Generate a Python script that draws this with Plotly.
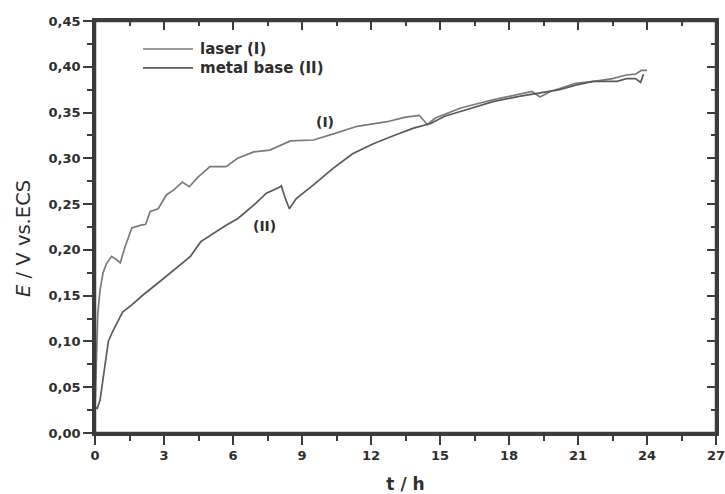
import plotly.graph_objects as go

# Data
t_laser = [0, 0.03, 0.07, 0.12, 0.22, 0.35, 0.5, 0.72, 0.9, 1.1, 1.3, 1.6, 2.0, 2.2, 2.4,
           2.75, 3.1, 3.4, 3.8, 4.1, 4.5, 5.0, 5.7, 6.2, 6.9, 7.6, 8.5, 9.5, 10.4, 11.4,
           12.7, 13.5, 14.1, 14.45, 14.8, 15.9, 17.3, 19.0, 19.35, 19.8, 20.9, 21.7,
           22.5, 23.1, 23.5, 23.75, 24.0]
E_laser = [0.028, 0.05, 0.09, 0.13, 0.156, 0.175, 0.185, 0.193, 0.19, 0.186, 0.203, 0.224,
           0.227, 0.228, 0.242, 0.245, 0.26, 0.265, 0.274, 0.269, 0.28, 0.291, 0.291, 0.300,
           0.307, 0.309, 0.319, 0.32, 0.327, 0.335, 0.34, 0.345, 0.347, 0.337, 0.344, 0.355,
           0.364, 0.373, 0.367, 0.373, 0.382, 0.384, 0.387, 0.391, 0.392, 0.396, 0.396]

t_metal = [0, 0.1, 0.22, 0.35, 0.45, 0.58, 0.75, 0.95, 1.2, 1.6, 2.1, 2.7, 3.25, 3.7, 4.15,
           4.6, 5.15, 5.7, 6.2, 6.75, 7.0, 7.45, 8.0, 8.1, 8.25, 8.45, 8.75, 9.5, 10.35,
           11.2, 12.1, 13.0, 13.85, 14.6, 15.2, 16.0, 17.3, 18.5, 19.3, 20.2, 20.9, 21.65,
           22.7, 23.1, 23.5, 23.72, 23.85]
E_metal = [0.028, 0.027, 0.036, 0.06, 0.08, 0.10, 0.11, 0.12, 0.132, 0.14, 0.151, 0.163,
           0.174, 0.183, 0.193, 0.209, 0.218, 0.227, 0.234, 0.245, 0.251, 0.262, 0.268, 0.27,
           0.258, 0.245, 0.256, 0.271, 0.289, 0.305, 0.316, 0.325, 0.333, 0.338, 0.346,
           0.352, 0.362, 0.368, 0.371, 0.375, 0.38, 0.384, 0.384, 0.387, 0.387, 0.383, 0.392]

series_names = ["laser (I)", "metal base (II)"]
series_colors = ["#7a7a7a", "#5a5a5a"]
legend_colors = ["#9a9a9a", "#5a5a5a"]

x_ticks = [0, 3, 6, 9, 12, 15, 18, 21, 24, 27]
y_ticks = [0.00, 0.05, 0.10, 0.15, 0.20, 0.25, 0.30, 0.35, 0.40, 0.45]

FONT = "DejaVu Sans, Arial, sans-serif"
AX = "#3c3c3c"
TXT = "#2e2e2e"

fig = go.Figure()
fig.add_trace(go.Scatter(x=t_laser, y=E_laser, mode="lines", name=series_names[0],
                         showlegend=False, line=dict(color=series_colors[0], width=1.7)))
fig.add_trace(go.Scatter(x=t_metal, y=E_metal, mode="lines", name=series_names[1],
                         showlegend=False, line=dict(color=series_colors[1], width=1.7)))
# invisible trace carrying the mirrored (top / right) axes
fig.add_trace(go.Scatter(x=[0], y=[0], xaxis="x2", yaxis="y2", mode="lines",
                         showlegend=False, hoverinfo="skip", line=dict(width=0)))

common = dict(showgrid=False, zeroline=False, showline=True, linecolor=AX, linewidth=2.5,
              tickcolor=AX, tickwidth=2, automargin=False)

fig.update_layout(
    width=725, height=494,
    margin=dict(l=95, r=9, t=21, b=61, autoexpand=False),
    paper_bgcolor="white", plot_bgcolor="white",
    font=dict(family=FONT, color=TXT, size=13),
    showlegend=False,
    xaxis=dict(range=[0, 27], tickmode="array", tickvals=x_ticks,
               ticktext=["<b>%d</b>" % v for v in x_ticks], ticks="outside", ticklen=9,
               ticklabeloverflow="allow",
               minor=dict(ticks="outside", dtick=1.5, tick0=0, ticklen=5, tickcolor=AX, tickwidth=2),
               title=dict(text="<b>t / h</b>", font=dict(size=17, color=TXT), standoff=23),
               tickfont=dict(size=13, color=TXT), anchor="y", **common),
    yaxis=dict(range=[0, 0.45], tickmode="array", tickvals=y_ticks,
               ticktext=["<b>%s</b>" % ("%.2f" % v).replace(".", ",") for v in y_ticks],
               ticks="outside", ticklen=9, ticklabeloverflow="allow",
               minor=dict(ticks="outside", dtick=0.025, tick0=0, ticklen=5, tickcolor=AX, tickwidth=2),
               tickfont=dict(size=13, color=TXT), anchor="x", **common),
    xaxis2=dict(range=[0, 27], overlaying="x", side="top", anchor="y2", tickvals=x_ticks,
                showticklabels=False, ticks="inside", ticklen=9,
                minor=dict(ticks="inside", dtick=1.5, tick0=0, ticklen=5, tickcolor=AX, tickwidth=2),
                **common),
    yaxis2=dict(range=[0, 0.45], overlaying="y", side="right", anchor="x2", tickvals=y_ticks,
                showticklabels=False, ticks="inside", ticklen=9,
                minor=dict(ticks="inside", dtick=0.025, tick0=0, ticklen=5, tickcolor=AX, tickwidth=2),
                **common),
)

# plot frame
fig.add_shape(type="rect", xref="paper", yref="paper", x0=0, x1=1, y0=0, y1=1,
              line=dict(color=AX, width=2.5), fillcolor="rgba(0,0,0,0)", layer="above")

# legend drawn as line samples + text
legend_y = [0.932, 0.886]
for name, col, ly in zip(series_names, legend_colors, legend_y):
    fig.add_shape(type="line", xref="paper", yref="paper", x0=0.0773, x1=0.1578,
                  y0=ly, y1=ly, line=dict(color=col, width=1.8))
    fig.add_annotation(xref="paper", yref="paper", x=0.166, y=ly, xanchor="left",
                       yanchor="middle", text="<b>%s</b>" % name, showarrow=False,
                       font=dict(size=15, color=TXT))

# y-axis title (placed as rotated text)
fig.add_annotation(xref="paper", yref="paper", x=-0.138, y=0.473, textangle=-90,
                   text="<i>E</i> / V vs.ECS", showarrow=False,
                   font=dict(size=19.5, color=TXT))

fig.add_annotation(x=10.0, y=0.3397, text="<b>(I)</b>", showarrow=False,
                   font=dict(size=14, color=TXT))
fig.add_annotation(x=7.35, y=0.226, text="<b>(II)</b>", showarrow=False,
                   font=dict(size=14, color=TXT))

fig.write_html("out.html", config={"displayModeBar": False},
               post_script="document.body.style.margin='0px';")
